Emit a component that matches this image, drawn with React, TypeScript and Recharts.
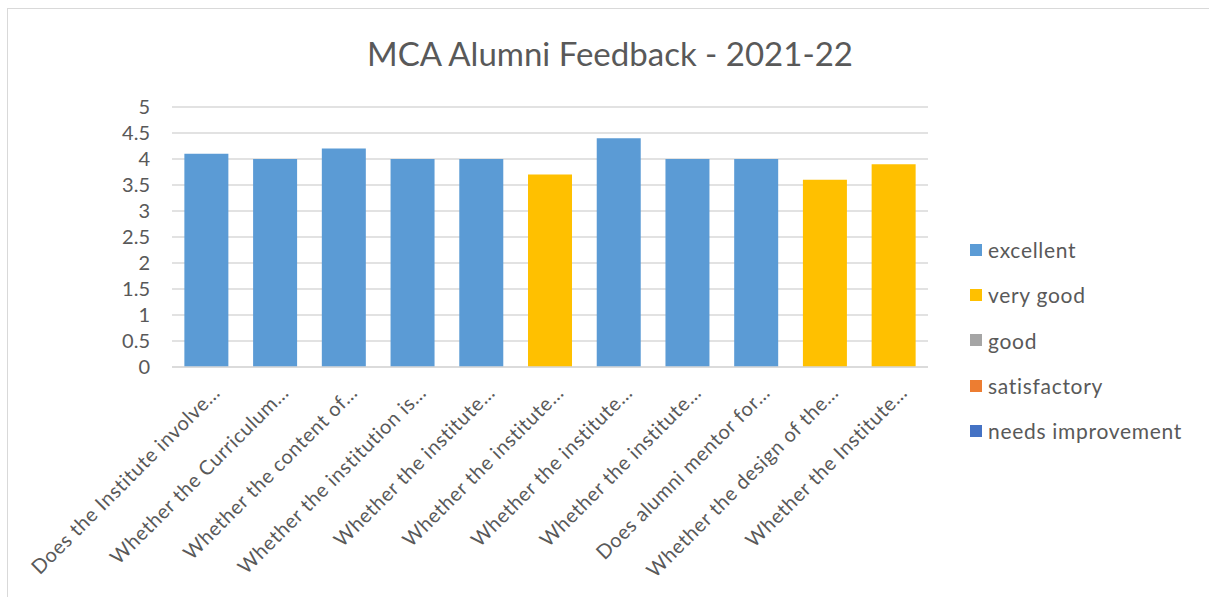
import { BarChart, Bar, XAxis, YAxis, CartesianGrid } from 'recharts'

const categories = [
  'Does the Institute involve…',
  'Whether the Curriculum…',
  'Whether the content of…',
  'Whether the institution is…',
  'Whether the institute…',
  'Whether the institute…',
  'Whether the institute…',
  'Whether the institute…',
  'Does alumni mentor for…',
  'Whether the design of the…',
  'Whether the Institute…',
]

const excellent = [4.1, 4.0, 4.2, 4.0, 4.0, null, 4.4, 4.0, 4.0, null, null]
const veryGood = [null, null, null, null, null, 3.7, null, null, null, 3.6, 3.9]
const good = [null, null, null, null, null, null, null, null, null, null, null]
const satisfactory = [null, null, null, null, null, null, null, null, null, null, null]
const needsImprovement = [null, null, null, null, null, null, null, null, null, null, null]

const yTicks = [0, 0.5, 1, 1.5, 2, 2.5, 3, 3.5, 4, 4.5, 5]

const series = [
  { key: 'excellent', name: 'excellent', color: '#5B9BD5', values: excellent },
  { key: 'veryGood', name: 'very good', color: '#FFC000', values: veryGood },
  { key: 'good', name: 'good', color: '#A5A5A5', values: good },
  { key: 'satisfactory', name: 'satisfactory', color: '#ED7D31', values: satisfactory },
  { key: 'needsImprovement', name: 'needs improvement', color: '#4472C4', values: needsImprovement },
]

const data = categories.map((cat, i) => {
  const row: Record<string, any> = { idx: i, name: cat }
  series.forEach((s) => {
    row[s.key] = s.values[i]
  })
  return row
})

const FONT = 'Lato, "Noto Sans", sans-serif'
const TEXT = '#595959'

function CategoryTick(props: any) {
  const { x, y, payload } = props
  return (
    <g transform={`translate(${x + 15},${y + 19})`}>
      <text
        x={0}
        y={0}
        textAnchor="end"
        transform="rotate(-45)"
        fill={TEXT}
        fontSize={20}
        letterSpacing={0.6}
        fontFamily={FONT}
      >
        {categories[payload.value]}
      </text>
    </g>
  )
}

// legend drawn as plain html, right of the plot
function LegendBox() {
  return (
    <div
      style={{
        position: 'absolute',
        left: 962,
        top: 218,
        fontFamily: FONT,
        fontSize: 21,
        letterSpacing: 0.7,
        color: TEXT,
      }}
    >
      {series.map((s) => (
        <div key={s.key} style={{ display: 'flex', alignItems: 'center', height: 45.3 }}>
          <span style={{ width: 12, height: 12, background: s.color, marginRight: 6, display: 'inline-block' }} />
          <span>{s.name}</span>
        </div>
      ))}
    </div>
  )
}

export default function App() {
  return (
    <div
      style={{
        position: 'absolute',
        left: 7,
        top: 8,
        width: 1202,
        height: 600,
        border: '1px solid #d9d9d9',
        background: '#fff',
        overflow: 'hidden',
      }}
    >
      <div
        style={{
          position: 'absolute',
          left: 0,
          width: 1204,
          top: 24,
          textAlign: 'center',
          fontFamily: FONT,
          fontSize: 33,
          color: TEXT,
        }}
      >
        MCA Alumni Feedback - 2021-22
      </div>
      <BarChart
        width={1200}
        height={589}
        data={data}
        margin={{ top: 98, right: 280, bottom: 11, left: 0 }}
        barCategoryGap="18%"
      >
        <CartesianGrid vertical={false} stroke="#d9d9d9" strokeWidth={1.3} />
        <XAxis
          dataKey="idx"
          type="category"
          height={220}
          tickLine={false}
          axisLine={{ stroke: '#d9d9d9', strokeWidth: 1.3 }}
          interval={0}
          tick={<CategoryTick />}
        />
        <YAxis
          width={164}
          domain={[0, 5]}
          ticks={yTicks}
          interval={0}
          axisLine={false}
          tickLine={false}
          tickSize={0}
          tickMargin={22}
          tick={{ fill: TEXT, fontSize: 20, fontFamily: FONT }}
        />
        {series.map((s) => (
          <Bar
            key={s.key}
            dataKey={s.key}
            name={s.name}
            stackId="a"
            fill={s.color}
            isAnimationActive={false}
          />
        ))}
      </BarChart>
      <LegendBox />
    </div>
  )
}
